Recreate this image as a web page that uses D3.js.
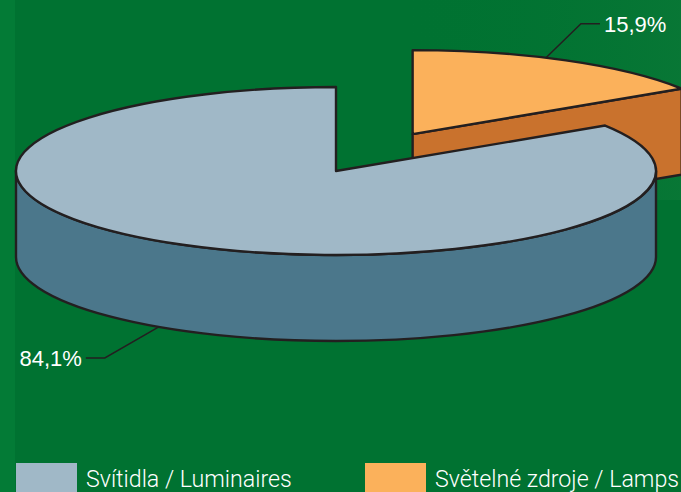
<!DOCTYPE html>
<html>
<head>
<meta charset="utf-8">
<script src="https://cdn.jsdelivr.net/npm/d3@7"></script>
<style>
  html, body { margin: 0; padding: 0; background: #007231; }
  svg { display: block; }
</style>
</head>
<body>
<svg id="chart"></svg>
<script>
// data
var categories = ["Svítidla / Luminaires", "Světelné zdroje / Lamps"];
var shares = [84.1, 15.9];
var valueLabels = ["84,1%", "15,9%"];
var topColors = ["#a0b8c7", "#fbb15b"];
var sideColors = ["#4b778b", "#c9722d"];
var explode = [0, 0.5];

var W = 681, H = 492;
var cx = 336, cy = 171, rx = 320, ry = 84, depth = 86;
var stroke = "#231f20";

var svg = d3.select('#chart').attr('width', W).attr('height', H);

// background
svg.append('rect').attr('width', W).attr('height', H).attr('fill', '#007231');
svg.append('rect').attr('width', 15).attr('height', H).attr('fill', '#037b36');
var grad = svg.append('defs').append('linearGradient').attr('id', 'bg')
  .attr('x1', 0).attr('x2', 1).attr('y1', 0).attr('y2', 0);
grad.append('stop').attr('offset', '0%').attr('stop-color', '#007231').attr('stop-opacity', 0);
grad.append('stop').attr('offset', '100%').attr('stop-color', '#0d7a38').attr('stop-opacity', 0.6);
svg.append('rect').attr('x', 400).attr('width', W - 400).attr('height', 200).attr('fill', 'url(#bg)');

var startA = 2 * Math.PI * shares[1] / 100;
var pie = d3.pie().sort(null).value(function(d){ return d; })
  .startAngle(startA).endAngle(startA + 2 * Math.PI);
var arcs = pie(shares);

function pt(a, ox, oy, dz){
  return [cx + ox + rx * Math.sin(a), cy + oy - ry * Math.cos(a) + (dz || 0)];
}

arcs.forEach(function(d, i){
  var mid = (d.startAngle + d.endAngle) / 2;
  d.ox = explode[i] * rx * Math.sin(mid);
  d.oy = -explode[i] * ry * Math.cos(mid);
  d.i = i;
});

function topPath(d){
  var p0 = pt(d.startAngle, d.ox, d.oy), p1 = pt(d.endAngle, d.ox, d.oy);
  var large = (d.endAngle - d.startAngle) > Math.PI ? 1 : 0;
  return 'M' + (cx + d.ox) + ',' + (cy + d.oy) + 'L' + p0 + 'A' + rx + ',' + ry + ' 0 ' + large + ' 1 ' + p1 + 'Z';
}

function wallPath(d){
  // visible front half between PI/2 and 3PI/2
  var a0 = Math.max(d.startAngle, Math.PI / 2), a1 = Math.min(d.endAngle, 3 * Math.PI / 2);
  if (a1 <= a0) return null;
  var p0 = pt(a0, d.ox, d.oy), p1 = pt(a1, d.ox, d.oy);
  var q0 = pt(a0, d.ox, d.oy, depth), q1 = pt(a1, d.ox, d.oy, depth);
  var large = (a1 - a0) > Math.PI ? 1 : 0;
  return 'M' + p0 + 'A' + rx + ',' + ry + ' 0 ' + large + ' 1 ' + p1 +
    'L' + q1 + 'A' + rx + ',' + ry + ' 0 ' + large + ' 0 ' + q0 + 'Z';
}

function faceEnd(d){
  var c = [cx + d.ox, cy + d.oy];
  var p = pt(d.endAngle, d.ox, d.oy);
  return 'M' + c + 'L' + p + 'L' + [p[0], p[1] + depth] + 'L' + [c[0], c[1] + depth] + 'Z';
}

// orange (exploded) slice first, then the big slice on top
var order = [arcs[1], arcs[0]];
order.forEach(function(d){
  var g = svg.append('g');
  if (Math.sin(d.endAngle) > 0.01) {
    g.append('path').attr('d', faceEnd(d)).attr('fill', sideColors[d.i])
      .attr('stroke', stroke).attr('stroke-width', 2.4).attr('stroke-linejoin', 'round');
  }
  var w = wallPath(d);
  if (w) g.append('path').attr('d', w).attr('fill', sideColors[d.i])
      .attr('stroke', stroke).attr('stroke-width', 2.4).attr('stroke-linejoin', 'round');
  g.append('path').attr('d', topPath(d)).attr('fill', topColors[d.i])
    .attr('stroke', stroke).attr('stroke-width', 2.4).attr('stroke-linejoin', 'round');
});

// value labels with leader lines
var labelShift = [5 * Math.PI / 180, -4 * Math.PI / 180];
var labelSetup = [
  { dz: depth, elbow: [-54, 31], tail: -19, anchor: 'end' },
  { dz: 0, elbow: [35, -34], tail: 19, anchor: 'start' }
];
arcs.forEach(function(d, i){
  var mid = (d.startAngle + d.endAngle) / 2 + labelShift[i];
  var s = labelSetup[i];
  var a = pt(mid, d.ox, d.oy, s.dz);
  var e = [a[0] + s.elbow[0], a[1] + s.elbow[1]];
  var t = [e[0] + s.tail, e[1]];
  svg.append('path').attr('d', 'M' + a + 'L' + e + 'L' + t)
    .attr('fill', 'none').attr('stroke', stroke).attr('stroke-width', 1.5);
  svg.append('text')
    .attr('x', t[0] + (s.anchor === 'end' ? -4 : 4)).attr('y', t[1] + 8)
    .attr('text-anchor', s.anchor)
    .attr('font-family', 'Liberation Sans, Arial, sans-serif')
    .attr('font-size', 22).attr('fill', '#ffffff')
    .text(valueLabels[i]);
});

// legend
var legendX = d3.scalePoint().domain(categories).range([16, 365]);
var lg = svg.selectAll('.legend').data(categories).enter().append('g')
  .attr('class', 'legend')
  .attr('transform', function(d){ return 'translate(' + legendX(d) + ',463)'; });
lg.append('rect').attr('width', 61).attr('height', 29)
  .attr('fill', function(d, i){ return topColors[i]; });
lg.append('text').attr('x', 70).attr('y', 24)
  .attr('font-family', 'Roboto, sans-serif').attr('font-weight', 300)
  .attr('font-size', 23.2).attr('fill', '#ffffff')
  .text(function(d){ return d; });
</script>
</body>
</html>
